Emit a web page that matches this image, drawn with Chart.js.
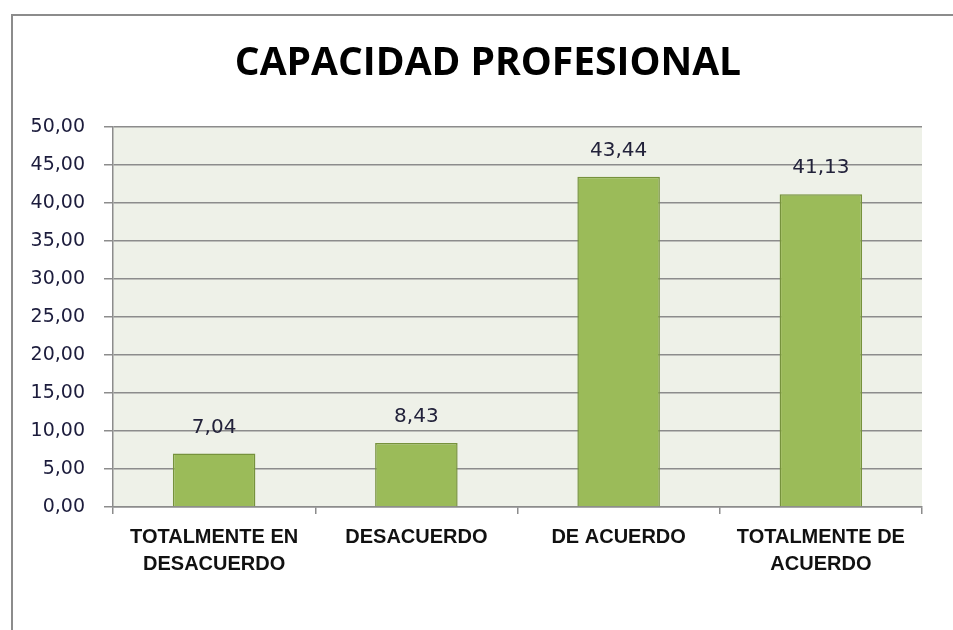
<!DOCTYPE html>
<html>
<head>
<meta charset="utf-8">
<script src="https://cdn.jsdelivr.net/npm/chart.js@4.4.0/dist/chart.umd.min.js"></script>
<style>
    html, body { margin: 0; padding: 0; background: #fff; }
    #wrap { position: relative; width: 953px; height: 630px; overflow: hidden; }
    #frame { position: absolute; left: 11px; top: 14px; width: 960px; height: 640px;
             border-top: 2px solid #8c8c8c; border-left: 2px solid #8c8c8c; }
    canvas { position: absolute; left: 0; top: 0; }
</style>
</head>
<body>
<div id="wrap">
    <div id="frame"></div>
    <canvas id="capChart" width="953" height="630"></canvas>
</div>
<script>
const categories = [
    ['TOTALMENTE EN', 'DESACUERDO'],
    'DESACUERDO',
    'DE ACUERDO',
    ['TOTALMENTE DE', 'ACUERDO']
];
const values = [7.04, 8.43, 43.44, 41.13];
const yTicks = [0, 5, 10, 15, 20, 25, 30, 35, 40, 45, 50];

const fmt = v => v.toFixed(2).replace('.', ',');

const ctx = document.getElementById('capChart').getContext('2d');

// shaded plot area
const plotBg = {
    id: 'plotBg',
    beforeDraw(chart) {
        const a = chart.chartArea;
        const c = chart.ctx;
        c.save();
        c.fillStyle = '#eef1e8';
        c.fillRect(a.left, a.top, a.right - a.left, a.bottom - a.top);
        c.restore();
    }
};

// value labels above bars
const barLabels = {
    id: 'barLabels',
    afterDatasetsDraw(chart) {
        const c = chart.ctx;
        const meta = chart.getDatasetMeta(0);
        c.save();
        c.font = '20px "DejaVu Sans"';
        c.fillStyle = '#22223a';
        c.textAlign = 'center';
        c.textBaseline = 'middle';
        meta.data.forEach((bar, i) => {
            c.fillText(fmt(values[i]), bar.x, bar.y - 26);
        });
        c.restore();
    }
};

new Chart(ctx, {
    type: 'bar',
    data: {
        labels: categories,
        datasets: [{
            data: values,
            backgroundColor: '#9bbb59',
            borderColor: '#76923c',
            borderWidth: 1.5,
            barPercentage: 0.51,
            categoryPercentage: 0.8
        }]
    },
    options: {
        responsive: false,
        animation: false,
        layout: { padding: { left: 25, right: 2, top: 0, bottom: 0 } },
        plugins: {
            legend: { display: false },
            tooltip: { enabled: false },
            title: {
                display: true,
                text: 'CAPACIDAD PROFESIONAL',
                color: '#000',
                font: { family: '"Open Sans"', size: 39, weight: 'bold', lineHeight: 1.2 },
                padding: { top: 40, bottom: 40 }
            }
        },
        scales: {
            x: {
                grid: {
                    offset: true,
                    drawOnChartArea: false,
                    drawTicks: true,
                    tickLength: 7,
                    color: '#8c8c8c',
                    lineWidth: 1.5
                },
                border: { display: true, color: '#8c8c8c', width: 1.5 },
                ticks: {
                    color: '#111',
                    padding: 10,
                    maxRotation: 0,
                    autoSkip: false,
                    font: { family: '"Liberation Sans"', size: 20, weight: 'bold', lineHeight: 1.35 }
                },
                afterFit(scale) { scale.height = 123; }
            },
            y: {
                min: 0,
                max: 50,
                afterBuildTicks(scale) { scale.ticks = yTicks.map(v => ({ value: v })); },
                grid: {
                    color: '#8c8c8c',
                    lineWidth: 1.5,
                    tickLength: 9
                },
                border: { display: true, color: '#8c8c8c', width: 1.5 },
                ticks: {
                    color: '#1c1c3c',
                    padding: 19,
                    font: { family: '"DejaVu Sans"', size: 19 },
                    callback: v => fmt(v)
                },
                afterFit(scale) { scale.width = 88; }
            },
            yRight: {
                position: 'right',
                display: true,
                min: 0,
                max: 50,
                grid: { display: false, drawTicks: false },
                border: { display: false },
                ticks: { display: false },
                afterFit(scale) { scale.width = 29; }
            }
        }
    },
    plugins: [plotBg, barLabels]
});
</script>
</body>
</html>
